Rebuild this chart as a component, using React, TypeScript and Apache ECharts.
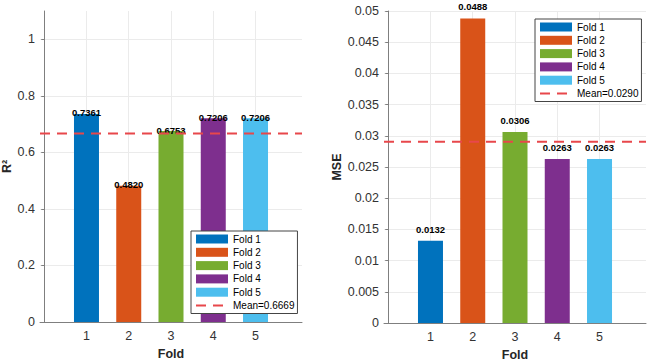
import React, { useEffect, useRef } from "react";
import * as echarts from "echarts";

const folds = ["Fold 1", "Fold 2", "Fold 3", "Fold 4", "Fold 5"];
const foldX = [1, 2, 3, 4, 5];
const r2Values = [0.7361, 0.482, 0.6753, 0.7206, 0.7206];
const mseValues = [0.0132, 0.0488, 0.0306, 0.0263, 0.0263];
const colors = ["#0072BD", "#D95319", "#77AC30", "#7E2F8E", "#4DBEEE"];
const r2Ticks = [0, 0.2, 0.4, 0.6, 0.8, 1];
const mseTicks = [0, 0.005, 0.01, 0.015, 0.02, 0.025, 0.03, 0.035, 0.04, 0.045, 0.05];
const xTicks = [1, 2, 3, 4, 5];

const X_MIN = -0.1;
const X_MAX = 6.1;
const FONT = "'Liberation Sans', Arial, Helvetica, sans-serif";

const mean = (a: number[]) => a.reduce((s, v) => s + v, 0) / a.length;

export default function App() {
  const ref = useRef<HTMLDivElement>(null);
  useEffect(() => {
    if (!ref.current) return;
    const chart = echarts.init(ref.current, undefined, { renderer: "svg" });
    const r2Mean = mean(r2Values);
    const mseMean = mean(mseValues);
    const r2MeanName = `Mean=${r2Mean.toFixed(4)}`;
    const mseMeanName = `Mean=${mseMean.toFixed(4)}`;

    const axisLine = { show: true, lineStyle: { color: "#7f7f7f", width: 1 } };
    const splitLine = { show: true, lineStyle: { color: "#ebebeb", width: 1 } };

    const xAxisCfg = (gridIndex: number) => ({
      type: "value",
      gridIndex,
      min: X_MIN,
      max: X_MAX,
      name: "Fold",
      nameLocation: "middle",
      nameGap: 25,
      nameTextStyle: { fontFamily: FONT, fontWeight: "bold", fontSize: 12.5, color: "#262626" },
      axisLine: { ...axisLine, onZero: false },
      axisTick: { show: false, customValues: xTicks },
      axisLabel: { customValues: xTicks, margin: 7, fontFamily: FONT, fontSize: 12.5, color: "#333" },
      splitLine,
    });

    const yAxisCfg = (gridIndex: number, name: string, max: number, ticks: number[], nameGap: number) => ({
      type: "value",
      gridIndex,
      min: 0,
      max,
      name,
      nameLocation: "middle",
      nameGap,
      nameTextStyle: { fontFamily: FONT, fontWeight: "bold", fontSize: 12.5, color: "#262626" },
      axisLine,
      axisTick: { show: true, length: 3, customValues: ticks, lineStyle: { color: "#7f7f7f" } },
      axisLabel: { customValues: ticks, margin: 5, fontFamily: FONT, fontSize: 12.5, color: "#333" },
      splitLine,
    });

    const barSeries = (values: number[], axisIndex: number, distance: number) =>
      values.map((v, i) => ({
        type: "bar",
        name: folds[i],
        xAxisIndex: axisIndex,
        yAxisIndex: axisIndex,
        barWidth: 25,
        barGap: "-100%",
        itemStyle: { color: colors[i] },
        data: [[foldX[i], v]],
        label: {
          show: true,
          position: "top",
          distance,
          formatter: () => v.toFixed(4),
          fontFamily: FONT,
          fontWeight: "bold",
          fontSize: 9.5,
          color: "#000",
        },
      }));

    const meanSeries = (m: number, name: string, axisIndex: number) => ({
      type: "line",
      name,
      xAxisIndex: axisIndex,
      yAxisIndex: axisIndex,
      symbol: "none",
      z: 5,
      lineStyle: { color: "#E8474B", width: 2, type: [10, 7] },
      itemStyle: { color: "#E8474B" },
      data: [
        [X_MIN, m],
        [X_MAX, m],
      ],
    });

    const legendCfg = (left: number, top: number, meanName: string) => ({
      orient: "vertical",
      left,
      top,
      backgroundColor: "#fff",
      borderColor: "#444",
      borderWidth: 1,
      borderRadius: 0,
      padding: [2, 3, 2, 4],
      itemWidth: 32,
      itemHeight: 9,
      itemGap: 1.3,
      textStyle: { fontFamily: FONT, fontSize: 10, color: "#000", lineHeight: 12 },
      data: [
        ...folds.map((f) => ({ name: f, icon: "rect" })),
        { name: meanName, itemStyle: { opacity: 0, borderWidth: 0 } },
      ],
      selectedMode: false,
      z: 10,
    });

    chart.setOption({
      animation: false,
      backgroundColor: "#fff",
      grid: [
        { left: 40, top: 11, width: 262, height: 311, outerBoundsMode: "none", containLabel: false },
        { left: 384, top: 11, width: 262, height: 312, outerBoundsMode: "none", containLabel: false },
      ],
      xAxis: [xAxisCfg(0), xAxisCfg(1)],
      yAxis: [yAxisCfg(0, "R²", 1.1, r2Ticks, 25), yAxisCfg(1, "MSE", 0.05, mseTicks, 40)],
      legend: [legendCfg(191, 231, r2MeanName), legendCfg(535, 19, mseMeanName)],
      series: [
        ...barSeries(r2Values, 0, -4),
        meanSeries(r2Mean, r2MeanName, 0),
        ...barSeries(mseValues, 1, 6.5),
        meanSeries(mseMean, mseMeanName, 1),
      ],
    });
    return () => chart.dispose();
  }, []);
  return (
    <div
      ref={ref}
      style={{ position: "fixed", left: 0, top: 0, width: 650, height: 360, background: "#fff" }}
    />
  );
}
